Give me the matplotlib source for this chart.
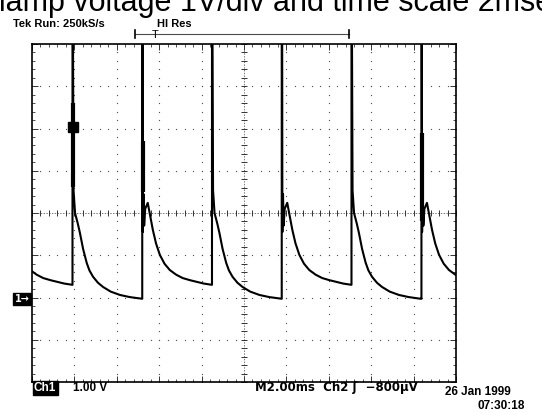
import matplotlib
matplotlib.use("Agg")
import matplotlib.pyplot as plt
import numpy as np

# scope settings: 2 ms/div, 1 V/div, 10 x 8 divisions
t_min, t_max = 0.0, 20.0
v_min, v_max = -4.0, 4.0

# lamp ignition pulses (ms)
pulse_t = [-1.38, 1.91, 5.20, 8.49, 11.78, 15.07, 18.37]
pulse_kind = ['even', 'odd', 'even', 'odd', 'even', 'odd', 'even']

# decay after a pulse: offset (ms) and voltage (V)
odd_dt = [0.05, 0.12, 0.25, 0.35, 0.50, 0.67, 0.80, 0.97, 1.20, 1.44, 1.80, 2.24, 2.70, 3.26]
odd_v = [0.54, 0.00, -0.25, -0.47, -0.85, -1.18, -1.36, -1.51, -1.65, -1.75, -1.86, -1.94, -1.99, -2.03]

even_dt = [0.03, 0.06, 0.09, 0.14, 0.26, 0.35, 0.50, 0.65, 0.83, 1.05, 1.30, 1.60, 1.91, 2.25, 2.57, 2.90, 3.28]
even_v = [-0.45, 0.45, -0.30, 0.10, 0.24, 0.00, -0.40, -0.72, -0.99, -1.20, -1.35, -1.46, -1.54, -1.59, -1.63, -1.67, -1.70]

spike_top = 4.6

# thicker parts of the spikes (t, v low, v high)
thick_t = [1.93, 5.22, 18.39]
thick_lo = [0.61, 0.50, -0.20]
thick_hi = [2.60, 1.70, 1.90]

marker_t, marker_v = 1.93, 2.04

# build trace
tt, vv = [], []
for p, k in zip(pulse_t, pulse_kind):
    dt, v = (odd_dt, odd_v) if k == 'odd' else (even_dt, even_v)
    if vv:
        tt.append(p); vv.append(vv[-1])
    tt += [p, p + 0.02]
    vv += [spike_top, spike_top]
    tt += [p + d for d in dt]
    vv += list(v)

W, H = 542, 413
fig = plt.figure(figsize=(W / 100, H / 100), dpi=100)
ax = fig.add_axes([32 / W, 1 - 382 / H, 424 / W, 338 / H])
ax.set_xlim(t_min, t_max)
ax.set_ylim(v_min, v_max)

# graticule dots
for gx in np.arange(2, 20, 2):
    if gx == 10:
        continue
    ys = np.arange(-4, 4.01, 0.2)
    ax.plot([gx] * len(ys), ys, ls='none', marker='o', ms=0.9, color='0.3', mew=0)
for gy in np.arange(-3, 4, 1):
    if gy == 0:
        continue
    xs = np.arange(0, 20.01, 0.4)
    ax.plot(xs, [gy] * len(xs), ls='none', marker='o', ms=0.9, color='0.3', mew=0)

# centre crosshair
ax.axvline(10, color='0.25', lw=0.5, ls=(0, (2, 2)))
ax.axhline(0, color='0.25', lw=0.5, ls=(0, (2, 2)))
ys = np.arange(-4, 4.01, 0.2)
ax.plot([10] * len(ys), ys, ls='none', marker='_', ms=4, color='0.2', mew=0.7)
xs = np.arange(0, 20.01, 0.4)
ax.plot(xs, [0] * len(xs), ls='none', marker='|', ms=4, color='0.2', mew=0.7)

# trace
ax.plot(tt, vv, color='black', lw=1.5, solid_joinstyle='round')
for t0, lo, hi in zip(thick_t, thick_lo, thick_hi):
    ax.plot([t0, t0], [lo, hi], color='black', lw=3.0, solid_capstyle='butt')
ax.plot(marker_t, marker_v, marker='s', ms=7.5, color='black')

# border ticks
ax.set_xticks(np.arange(0, 20.01, 2))
ax.set_yticks(np.arange(-4, 4.01, 1))
ax.set_xticks(np.arange(0, 20.01, 0.4), minor=True)
ax.set_yticks(np.arange(-4, 4.01, 0.2), minor=True)
ax.tick_params(which='both', direction='in', top=True, right=True,
               labelbottom=False, labelleft=False, color='0.2')
ax.tick_params(which='major', length=4, width=0.7)
ax.tick_params(which='minor', length=2, width=0.6)
for s in ax.spines.values():
    s.set_linewidth(1.2)


def px(x, y):
    return x / W, 1 - y / H


# header texts
fig.text(*px(-1, 11), 'lamp voltage 1V/div and time scale 2msec', fontsize=22,
         family='Liberation Sans', va='baseline', ha='left')
fig.text(*px(13, 27), 'Tek Run: 250kS/s', fontsize=8, family='Liberation Sans',
         weight='bold', va='baseline')
fig.text(*px(157, 27), 'HI Res', fontsize=8, family='Liberation Sans',
         weight='bold', va='baseline')

# trigger bracket
fig.add_artist(plt.Line2D([135 / W, 349 / W], [1 - 34 / H] * 2, color='0.3', lw=0.8))
for bx in (135, 349):
    fig.add_artist(plt.Line2D([bx / W] * 2, [1 - 30 / H, 1 - 38 / H], color='black', lw=1.2))
fig.text(*px(155, 38), 'T', fontsize=8, family='Liberation Sans', ha='center', va='baseline')

# ground marker
fig.text(*px(22, 302), '1\u2192', fontsize=7, family='DejaVu Sans', weight='bold',
         color='white', ha='center', va='baseline',
         bbox=dict(boxstyle='square,pad=0.15', fc='black', ec='black'))

# footer
fig.text(*px(34, 391), 'Ch1', fontsize=8.5, family='Liberation Sans', weight='bold',
         color='white', va='baseline',
         bbox=dict(boxstyle='square,pad=0.1', fc='black', ec='black'))
fig.text(*px(73, 391), '1.00 V', fontsize=8.5, family='Liberation Sans', weight='bold',
         va='baseline')
fig.text(*px(255, 391), 'M2.00ms  Ch2 \u0283  \u2212800\u00b5V', fontsize=8.5,
         family='DejaVu Sans', weight='bold', va='baseline')
fig.text(*px(445, 395), '26 Jan 1999', fontsize=8.5, family='Liberation Sans',
         weight='bold', va='baseline')
fig.text(*px(478, 409), '07:30:18', fontsize=8.5, family='Liberation Sans',
         weight='bold', va='baseline')

fig.savefig('out.png', dpi=100)
